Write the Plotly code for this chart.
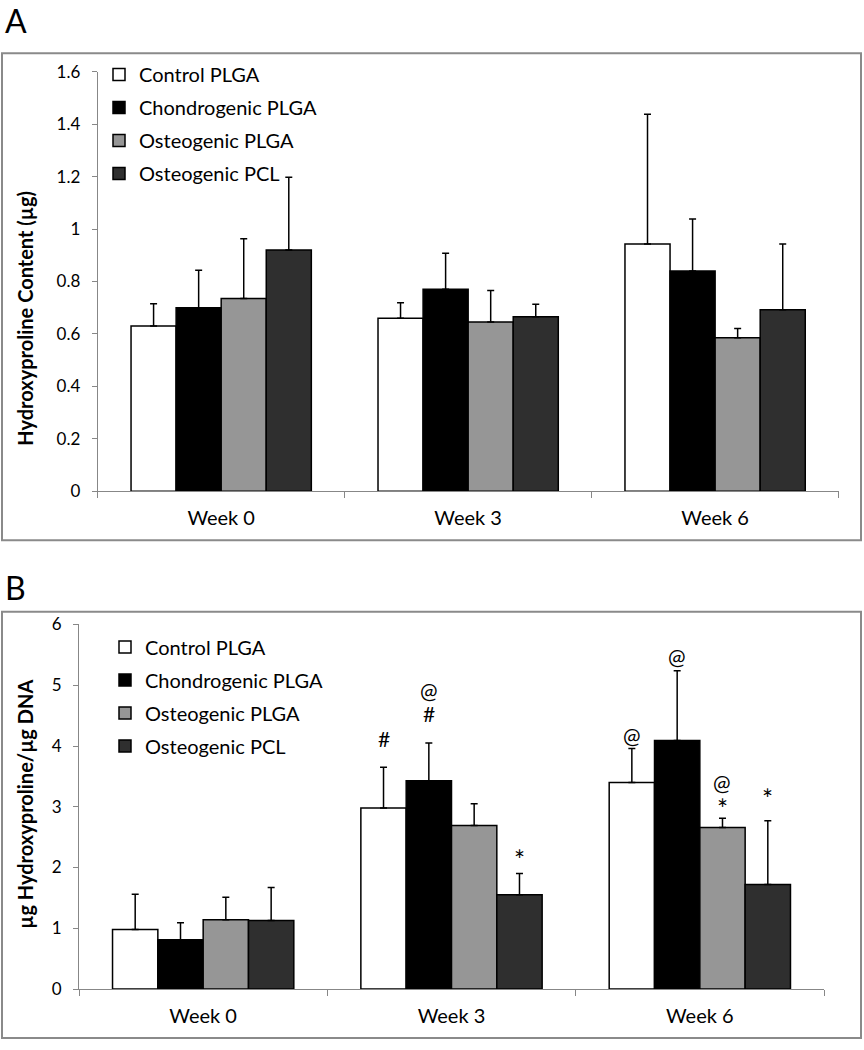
import plotly.graph_objects as go

weeks = ["Week 0", "Week 3", "Week 6"]
groups = ["Control PLGA", "Chondrogenic PLGA", "Osteogenic PLGA", "Osteogenic PCL"]
colors = ["#ffffff", "#000000", "#969696", "#2f2f2f"]

# Panel A: Hydroxyproline content (µg) - means and SD per group across weeks
a_control = [0.63, 0.66, 0.943]
a_chondro = [0.70, 0.77, 0.84]
a_osteo_plga = [0.735, 0.645, 0.585]
a_osteo_pcl = [0.92, 0.665, 0.692]
a_control_sd = [0.085, 0.059, 0.495]
a_chondro_sd = [0.143, 0.138, 0.198]
a_osteo_plga_sd = [0.228, 0.121, 0.036]
a_osteo_pcl_sd = [0.278, 0.048, 0.251]

# Panel B: µg hydroxyproline / µg DNA
b_control = [0.98, 2.98, 3.40]
b_chondro = [0.81, 3.43, 4.09]
b_osteo_plga = [1.14, 2.69, 2.66]
b_osteo_pcl = [1.13, 1.55, 1.72]
b_control_sd = [0.58, 0.67, 0.56]
b_chondro_sd = [0.28, 0.62, 1.15]
b_osteo_plga_sd = [0.37, 0.36, 0.15]
b_osteo_pcl_sd = [0.54, 0.35, 1.05]

# Significance markers in panel B: (week, group index, y value, symbol)
b_marks = [
    ("Week 3", 0, 4.13, "#"),
    ("Week 3", 1, 4.54, "#"),
    ("Week 3", 1, 4.91, "@"),
    ("Week 3", 3, 2.12, "*"),
    ("Week 6", 0, 4.18, "@"),
    ("Week 6", 1, 5.47, "@"),
    ("Week 6", 2, 2.97, "*"),
    ("Week 6", 2, 3.40, "@"),
    ("Week 6", 3, 3.13, "*"),
]

a_means = [a_control, a_chondro, a_osteo_plga, a_osteo_pcl]
a_sds = [a_control_sd, a_chondro_sd, a_osteo_plga_sd, a_osteo_pcl_sd]
b_means = [b_control, b_chondro, b_osteo_plga, b_osteo_pcl]
b_sds = [b_control_sd, b_chondro_sd, b_osteo_plga_sd, b_osteo_pcl_sd]

W, H = 864, 1050
FONT = "Lato, Calibri, Carlito, Arial, sans-serif"
AXIS_GRAY = "#878787"
BARGAP = 0.27

fig = go.Figure()

for gi, name in enumerate(groups):
    fig.add_trace(go.Bar(
        x=weeks, y=a_means[gi], name=name,
        marker=dict(color=colors[gi], line=dict(color="black", width=1.5)),
        error_y=dict(type="data", symmetric=False, array=a_sds[gi],
                     arrayminus=[0] * len(weeks), color="black",
                     thickness=1.5, width=3.5),
        xaxis="x", yaxis="y", legend="legend", legendgroup="a" + str(gi),
    ))
for gi, name in enumerate(groups):
    fig.add_trace(go.Bar(
        x=weeks, y=b_means[gi], name=name,
        marker=dict(color=colors[gi], line=dict(color="black", width=1.5)),
        error_y=dict(type="data", symmetric=False, array=b_sds[gi],
                     arrayminus=[0] * len(weeks), color="black",
                     thickness=1.5, width=3.5),
        xaxis="x2", yaxis="y2", legend="legend2", legendgroup="b" + str(gi),
    ))

# domains (pixels -> paper)
ax_a = (97.7, 838.6, 62, 490)
ax_b = (79, 824, 626, 998)


def dom(ax):
    x0, x1, ytop, ybot = ax
    return [x0 / W, x1 / W], [1 - ybot / H, 1 - ytop / H]


xa, ya = dom(ax_a)
xb, yb = dom(ax_b)

xaxis_common = dict(
    showline=True, linecolor=AXIS_GRAY, linewidth=1,
    ticks="outside", tickson="boundaries", ticklen=6, tickcolor=AXIS_GRAY,
    tickfont=dict(family=FONT, size=20, color="black"),
    showgrid=False, zeroline=False, ticklabelstandoff=9,
)
yaxis_common = dict(
    showline=True, linecolor=AXIS_GRAY, linewidth=1,
    ticks="outside", ticklen=5, tickcolor=AXIS_GRAY,
    tickfont=dict(family=FONT, size=17, color="black"),
    showgrid=False, zeroline=False, ticklabelstandoff=8,
)

legend_common = dict(
    xanchor="left", yanchor="top", bgcolor="rgba(0,0,0,0)",
    font=dict(family=FONT, size=20, color="black"),
    tracegroupgap=4, traceorder="grouped", itemclick=False,
)

bw_px = (ax_b[1] - ax_b[0]) / 3 * (1 - BARGAP) / 4

annotations = []
for wk, gi, yv, sym in b_marks:
    annotations.append(dict(
        x=wk, y=yv, xref="x2", yref="y2", text=sym, showarrow=False,
        xshift=(gi - 1.5) * bw_px, yanchor="middle",
        font=dict(family=FONT, size=26 if sym == "*" else 21, color="black"),
    ))

annotations += [
    dict(x=3 / W, y=1.0, xref="paper", yref="paper", text="A",
         showarrow=False, xanchor="left", yanchor="top", yshift=12,
         font=dict(family=FONT, size=32, color="black")),
    dict(x=3 / W, y=1 - 588 / H, xref="paper", yref="paper", text="B",
         showarrow=False, xanchor="left", yanchor="middle",
         font=dict(family=FONT, size=32, color="black")),
    dict(x=25 / W, y=1 - 314 / H, xref="paper", yref="paper",
         text="<b>Hydroxyproline Content (µg)</b>", textangle=-90,
         showarrow=False, xanchor="center", yanchor="middle",
         font=dict(family=FONT, size=20, color="black")),
    dict(x=25 / W, y=1 - 810 / H, xref="paper", yref="paper",
         text="<b>µg Hydroxyproline/µg DNA</b>", textangle=-90,
         showarrow=False, xanchor="center", yanchor="middle",
         font=dict(family=FONT, size=20, color="black")),
]

shapes = [
    dict(type="rect", xref="paper", yref="paper",
         x0=2 / W, x1=861 / W, y0=1 - 540 / H, y1=1 - 43 / H,
         line=dict(color="#8a8a8a", width=2), fillcolor="rgba(0,0,0,0)"),
    dict(type="rect", xref="paper", yref="paper",
         x0=2 / W, x1=861 / W, y0=1 - 1048 / H, y1=1 - 613 / H,
         line=dict(color="#8a8a8a", width=2), fillcolor="rgba(0,0,0,0)"),
]

fig.update_layout(
    width=W, height=H,
    margin=dict(l=0, r=0, t=0, b=0),
    paper_bgcolor="white", plot_bgcolor="white",
    barmode="group", bargap=BARGAP, bargroupgap=0,
    showlegend=True,
    xaxis=dict(domain=xa, anchor="y", **xaxis_common),
    yaxis=dict(domain=ya, anchor="x", range=[0, 1.6], dtick=0.2,
               **yaxis_common),
    xaxis2=dict(domain=xb, anchor="y2", **xaxis_common),
    yaxis2=dict(domain=yb, anchor="x2", range=[0, 6], dtick=1,
                **yaxis_common),
    legend=dict(x=99 / W, y=1 - 45 / H, **legend_common),
    legend2=dict(x=105 / W, y=1 - 629 / H, **legend_common),
    annotations=annotations,
    shapes=shapes,
)

fig.write_html("out.html", config={"displayModeBar": False},
               post_script="document.body.style.margin='0';")
